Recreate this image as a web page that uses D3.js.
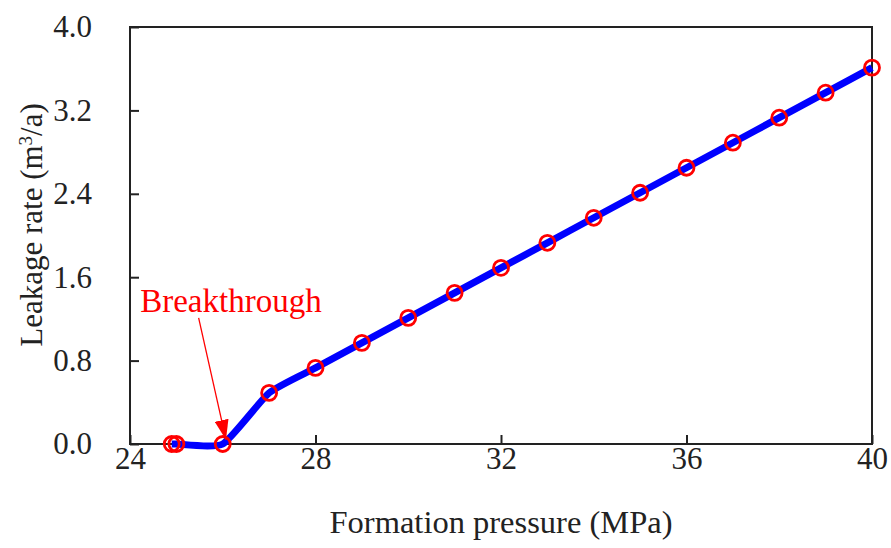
<!DOCTYPE html>
<html>
<head>
<meta charset="utf-8">
<script src="https://cdn.jsdelivr.net/npm/d3@7"></script>
<style>
  body { margin: 0; background: #fff; }
  text { font-family: "Liberation Serif", "Times New Roman", serif; }
</style>
</head>
<body>
<svg id="chart" width="891" height="548"></svg>
<script>
// Data
var pressure = [24.9, 25.0, 26, 27, 28, 29, 30, 31, 32, 33, 34, 35, 36, 37, 38, 39, 40];
var leakage  = [0, 0, 0, 0.49, 0.73, 0.97, 1.21, 1.45, 1.69, 1.93, 2.17, 2.41, 2.65, 2.89, 3.13, 3.37, 3.61];
var xTicks = [24, 28, 32, 36, 40];
var yTicks = [0, 0.8, 1.6, 2.4, 3.2, 4.0];
var annotation = { label: 'Breakthrough', from: [25.48, 1.21], to: [26.07, 0.04] };

var svg = d3.select('#chart');
var margin = { top: 27, right: 19, bottom: 104, left: 130 },
	width = 891 - margin.left - margin.right,
	height = 548 - margin.top - margin.bottom;

var x = d3.scaleLinear().domain([24, 40]).range([0, width]);
var y = d3.scaleLinear().domain([0, 4]).range([height, 0]);

var g = svg.append('g').attr('transform', 'translate(' + margin.left + ',' + margin.top + ')');

// frame
g.append('rect')
	.attr('width', width).attr('height', height)
	.attr('fill', 'none').attr('stroke', '#222').attr('stroke-width', 2);

// axes, ticks inside
var xAxis = d3.axisBottom(x).tickValues(xTicks).tickSizeInner(-9).tickSizeOuter(0).tickPadding(3);
var yAxis = d3.axisLeft(y).tickValues(yTicks).tickSizeInner(-9).tickSizeOuter(0).tickPadding(38)
	.tickFormat(d3.format('.1f'));

var gx = g.append('g').attr('transform', 'translate(0,' + height + ')').call(xAxis);
var gy = g.append('g').call(yAxis);
[gx, gy].forEach(function(a) {
	a.select('.domain').remove();
	a.selectAll('.tick line').attr('stroke', '#222').attr('stroke-width', 2);
	a.selectAll('.tick text').attr('fill', '#222').style('font-size', '31px');
});
gy.selectAll('.tick text').attr('x', -38);

// axis titles
svg.append('text')
	.attr('x', margin.left + width / 2).attr('y', 533)
	.attr('text-anchor', 'middle').attr('fill', '#222').style('font-size', '32.5px')
	.text('Formation pressure (MPa)');

var yt = svg.append('text')
	.attr('transform', 'translate(42,225) rotate(-90)')
	.attr('text-anchor', 'middle').attr('fill', '#222').style('font-size', '31px');
yt.append('tspan').text('Leakage rate (m');
yt.append('tspan').attr('baseline-shift', 'super').style('font-size', '19px').text('3');
yt.append('tspan').text('/a)');

// line
var pts = pressure.map(function(p, i) { return [p, leakage[i]]; });
var line = d3.line()
	.x(function(d) { return x(d[0]); })
	.y(function(d) { return y(d[1]); })
	.curve(d3.curveCardinal.tension(0.45));

g.append('path')
	.datum(pts)
	.attr('d', line)
	.attr('fill', 'none')
	.attr('stroke', '#0000ff')
	.attr('stroke-width', 7)
	.attr('stroke-linejoin', 'round');

// markers
g.selectAll('.pt')
	.data(pts)
	.enter().append('circle')
	.attr('class', 'pt')
	.attr('cx', function(d) { return x(d[0]); })
	.attr('cy', function(d) { return y(d[1]); })
	.attr('r', 7.5)
	.attr('fill', 'none')
	.attr('stroke', '#ff0000')
	.attr('stroke-width', 2.8);

// annotation
svg.append('defs').append('marker')
	.attr('id', 'arrowhead')
	.attr('viewBox', '0 0 20 14')
	.attr('refX', 20).attr('refY', 7)
	.attr('markerWidth', 20).attr('markerHeight', 14)
	.attr('markerUnits', 'userSpaceOnUse')
	.attr('orient', 'auto')
	.append('path').attr('d', 'M0,0 L20,7 L0,14 Z').attr('fill', '#ff0000');

g.append('line')
	.attr('x1', x(annotation.from[0])).attr('y1', y(annotation.from[1]))
	.attr('x2', x(annotation.to[0])).attr('y2', y(annotation.to[1]))
	.attr('stroke', '#ff0000').attr('stroke-width', 1.3)
	.attr('marker-end', 'url(#arrowhead)');

g.append('text')
	.attr('x', x(24.22)).attr('y', y(1.27))
	.attr('fill', '#ff0000').style('font-size', '33px')
	.text(annotation.label);
</script>
</body>
</html>
